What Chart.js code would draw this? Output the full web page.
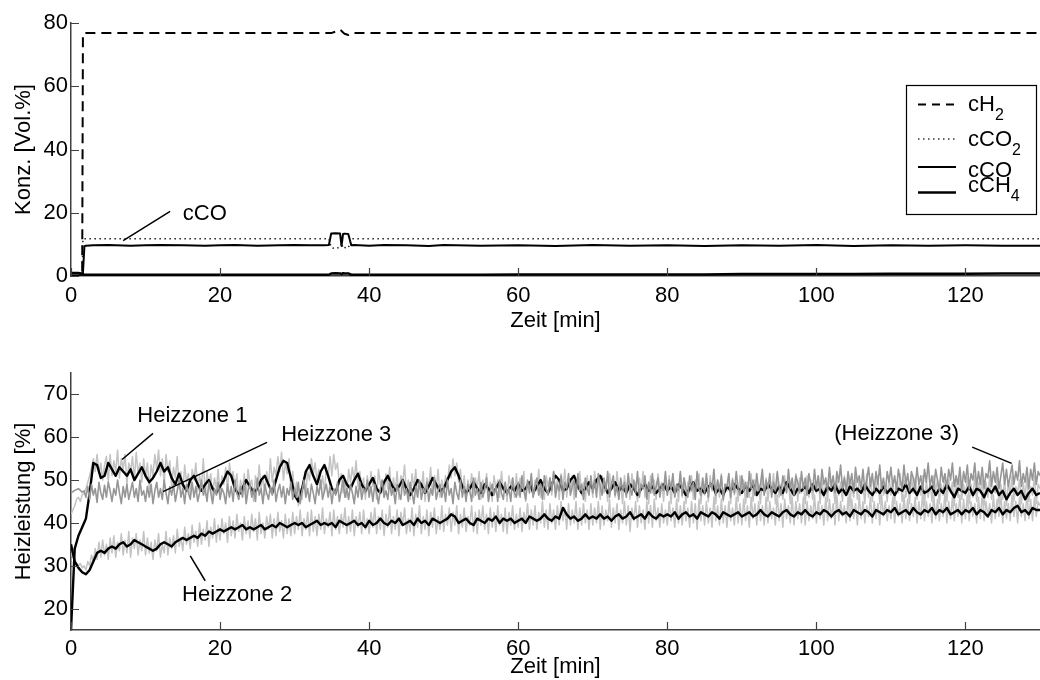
<!DOCTYPE html>
<html>
<head>
<meta charset="utf-8">
<script src="https://cdn.jsdelivr.net/npm/chart.js@4.4.1/dist/chart.umd.min.js"></script>
<style>
  html, body { margin: 0; padding: 0; background: #fff; }
  #wrap { position: relative; width: 1040px; height: 680px; }
  .box { position: absolute; left: 0; width: 1040px; height: 340px; }
</style>
</head>
<body>
<div id="wrap">
  <div class="box" style="top:0"><canvas id="konz"></canvas></div>
  <div class="box" style="top:340px"><canvas id="heiz"></canvas></div>
</div>
<script>
// Achsenbeschriftung
const zeitTicks = [0, 20, 40, 60, 80, 100, 120];
const konzTicks = [0, 20, 40, 60, 80];
const heizTicks = [20, 30, 40, 50, 60, 70];

// Gaskonzentrationen [Vol.%]
const zeitKonz = [0, 0.5, 1.0, 1.5, 1.6, 1.8, 2.0, 3, 5, 8, 10, 12, 15, 18, 20, 22, 25, 28, 30, 32, 34,
  34.6, 34.9, 35.5, 36.1, 36.3, 36.5, 36.7, 37.2, 37.6, 38,
  40, 42, 45, 48, 50, 55, 60, 65, 70, 75, 80, 85, 90, 95, 100, 105, 110, 115, 120, 125, 130];
const cH2 = [0, 0, 0, 0, 76.6, 76.8, 76.8, 76.8, 76.8, 76.8, 76.8, 76.8, 76.8, 76.8, 76.8, 76.8, 76.8, 76.8, 76.8, 76.8, 76.8,
  76.8, 76.8, 77.3, 77.9, 77.5, 77.0, 76.6, 76.2, 76.7, 76.8,
  76.8, 76.8, 76.8, 76.8, 76.8, 76.8, 76.8, 76.8, 76.8, 76.8, 76.8, 76.8, 76.8, 76.8, 76.8, 76.8, 76.8, 76.8, 76.8, 76.8, 76.8];
const cCO2 = [0, 0, 0, 0, 11.8, 11.8, 11.8, 11.8, 11.8, 11.8, 11.8, 11.8, 11.8, 11.8, 11.8, 11.8, 11.8, 11.8, 11.8, 11.8, 11.8,
  11.8, 9.0, 8.6, 9.2, 10.5, 8.7, 9.0, 8.8, 11.8, 11.8,
  11.8, 11.8, 11.8, 11.8, 11.8, 11.8, 11.8, 11.8, 11.8, 11.8, 11.8, 11.8, 11.8, 11.8, 11.8, 11.8, 11.8, 11.8, 11.8, 11.8, 11.8];
const cCO = [1.0, 1.0, 1.0, 0.8, 1.0, 9.4, 9.6, 9.7, 9.8, 9.6, 9.7, 9.8, 9.7, 9.6, 9.7, 9.8, 9.6, 9.7, 9.8, 9.7, 9.7,
  9.8, 13.4, 13.5, 13.4, 9.5, 13.3, 13.4, 13.3, 9.7, 9.8,
  9.6, 9.8, 9.7, 9.5, 9.8, 9.6, 9.7, 9.5, 9.8, 9.6, 9.7, 9.5, 9.7, 9.6, 9.8, 9.5, 9.7, 9.6, 9.7, 9.6, 9.6];
const cCH4 = [0.8, 0.8, 0.8, 0.6, 0.4, 0.4, 0.4, 0.4, 0.4, 0.4, 0.4, 0.4, 0.4, 0.4, 0.4, 0.4, 0.4, 0.4, 0.4, 0.4, 0.4,
  0.4, 0.8, 0.9, 0.8, 0.6, 0.9, 0.8, 0.8, 0.4, 0.4,
  0.4, 0.4, 0.4, 0.4, 0.4, 0.4, 0.5, 0.5, 0.5, 0.5, 0.5, 0.5, 0.6, 0.6, 0.6, 0.6, 0.7, 0.7, 0.7, 0.8, 0.8];

// Heizleistung [%]: Regelverlauf alle 0,5 min, Rohsignale alle 0,25 min
const zeitHeiz = Array.from({ length: 261 }, (_, i) => i / 2);
const zeitHeizFein = Array.from({ length: 521 }, (_, i) => i / 4);

const heizzone1 = [
  15, 34, 37, 39, 41, 47, 54, 53.5, 50.5, 51, 54, 52.5, 51, 53, 52, 51, 52.5, 50, 51.5, 53,
  51, 49.5, 50.5, 52, 54, 52, 53, 50.5, 49, 51.5, 49, 47.5, 50, 51, 49, 47.5, 49, 50, 48, 47,
  48.5, 50, 52, 51, 48, 46.5, 48, 50, 48.5, 47, 48, 50, 51, 49, 47, 50, 53, 54.5, 54, 50.5,
  46.5, 45, 48, 52, 53.5, 51, 49, 52, 53.5, 51, 48, 47, 50, 51, 49, 48, 50, 51.5, 49, 47.5,
  49, 50.5, 48, 47, 49.5, 51, 49, 47.5, 48.5, 50, 48, 46.5, 48, 50, 49, 47, 48.5, 50.5, 49, 47.5,
  48, 50, 52, 53, 51, 48.5, 47, 48, 49.5, 48, 47, 49, 48, 46.5, 48, 49.5, 48, 47, 48.5, 47.5,
  49, 47.5, 48, 49.5, 47, 48.5, 50, 48, 47, 49, 51, 50, 47.5, 48, 50, 51, 48.5, 47, 48, 49.5,
  48, 50, 51, 49, 47, 48, 49.5, 47.5, 48.5, 47, 49, 48, 46.5, 48, 49, 47.5, 48.5, 47, 48, 49,
  47.5, 48.5, 47, 49, 48, 46.5, 48, 49.5, 47.5, 48, 47, 48.5, 49, 47, 48, 46.5, 48.5, 47.5, 49, 48,
  47, 48.5, 47.5, 49, 46.5, 48, 47.5, 49, 48, 47, 48.5, 47, 49.5, 48, 46.5, 48, 47.5, 48.5, 47, 49,
  47.5, 48, 46.5, 48.5, 47.5, 49, 47, 48, 46.5, 48.5, 47.5, 48, 47, 49, 47.5, 46.5, 48, 47, 48.5, 47,
  48, 46.5, 48, 47.5, 49, 47, 48, 46.5, 48.5, 47, 47.5, 48.5, 46.5, 48, 47, 49, 47.5, 46, 48, 47.5,
  47, 48.5, 46.5, 48, 47.5, 46, 48, 47, 48.5, 46.5, 47.5, 45.5, 47, 48, 46.5, 47.5, 45.5, 47, 48, 46.5,
  47];
const heizzone2 = [
  35, 31, 29.5, 28.5, 28, 29, 31, 33, 33.5, 33, 34, 34.5, 34, 35, 35.5, 34.5, 35, 36, 35.5, 35,
  34.5, 34, 33.5, 34, 35, 35.5, 35, 34.5, 35.5, 36, 36.5, 36, 36.5, 37, 36.5, 37.5, 37, 38, 37.5, 38,
  38.5, 38, 38.5, 39, 38.5, 39, 39.5, 38.5, 39, 38.5, 39, 39.5, 38.5, 39, 39.5, 39, 40, 39.5, 39, 39.5,
  40, 39.5, 40, 39, 39.5, 40, 40.5, 39.5, 40, 39.5, 40, 39, 40.5, 40, 39.5, 40, 40.5, 39.5, 40, 39,
  40.5, 39.5, 40, 41, 40, 39.5, 40.5, 40, 41, 39.5, 40, 40.5, 39.5, 41, 40, 40.5, 39.5, 41, 40.5, 40,
  40.5, 41, 42, 41.5, 40, 40.5, 41, 40, 39.5, 41, 40.5, 40, 41, 40.5, 41.5, 40, 41, 40.5, 41, 40,
  40.5, 41, 40, 41.5, 41, 40.5, 41, 42, 41, 40.5, 41.5, 41, 43.5, 42, 41, 41.5, 40.5, 41, 42, 41,
  41.5, 41, 42, 41, 41.5, 40.5, 41.5, 42, 41, 41.5, 42.5, 41, 41.5, 42, 41, 42.5, 41.5, 41, 42, 41.5,
  42, 41.5, 42.5, 41, 42, 42.5, 41.5, 42, 41, 42.5, 42, 41.5, 42.5, 42, 41, 42.5, 42, 41.5, 42, 42.5,
  41.5, 42, 42.5, 41.5, 42, 43, 42, 41.5, 42.5, 42, 41.5, 42.5, 43, 42, 41.5, 42.5, 42, 43, 42, 41.5,
  42.5, 42, 43, 42.5, 41.5, 42.5, 43, 42, 42.5, 41.5, 43, 42.5, 42, 43, 42.5, 41.5, 43, 42.5, 42, 43,
  42.5, 43.5, 42, 42.5, 43, 42, 43.5, 42.5, 42, 43, 42.5, 43.5, 42, 43, 42.5, 43.5, 42, 42.5, 43, 42,
  43, 42.5, 43.5, 42, 43, 42.5, 41.5, 43, 42.5, 43.5, 42, 43, 42.5, 43.5, 44, 42.5, 43, 42, 43.5, 43,
  43];

const heizzone3 = [
  47, 47.3, 47.6, 47.8, 48, 47.6, 47.2, 47.5, 46, 48.5, 45.5, 49, 46.5, 48, 44.8, 49.5, 47, 45.5, 48.8, 46,
  49.5, 47.5, 45, 48, 46.5, 50, 47, 44.5, 48.5, 46, 49, 45.5, 47.5, 49.5, 46, 48, 45, 50, 46.5, 47.5,
  45, 48.5, 46, 49, 44.5, 47.5, 49.5, 46, 48, 45.5, 50, 47, 44.5, 48.5, 46.5, 49, 45, 47.5, 50, 46,
  48, 44.5, 49, 47, 45.5, 49.5, 46, 48.5, 45, 47, 50, 46.5, 48, 45, 49.5, 47, 44.5, 48, 46.5, 49.5,
  45.5, 48, 47, 44.5, 49, 46, 48.5, 45, 50, 47, 45.5, 48.5, 46, 49.5, 44.5, 47.5, 49, 46, 48, 45,
  50.5, 46.5, 48, 44.5, 49, 47, 45.5, 48.5, 46.5, 50, 45, 47.5, 49, 46, 48.5, 44.5, 48, 46.5, 49.5, 45.5,
  48, 46, 49.5, 44.5, 47.5, 50, 46, 48, 45, 49, 47, 44.5, 48.5, 46.5, 50, 45.5, 47.5, 49, 46, 48.5,
  44.5, 48, 46.5, 49.5, 45, 47.5, 50, 46, 48, 45.5, 49, 47, 44.5, 48.5, 46, 49.5, 45.5, 48, 47, 50,
  46, 48.5, 45, 49, 47, 44.5, 48, 50, 46, 47.5, 45.5, 49.5, 46.5, 48, 44.5, 49, 47, 45.5, 50, 46.5,
  48, 45, 49.5, 47, 44.5, 48.5, 46, 50, 45.5, 48, 47, 49.5, 45, 48, 46.5, 50.5, 45.5, 47.5, 49, 46,
  48.5, 45, 50, 46.5, 48, 44.5, 49.5, 47, 45.5, 50, 46, 48.5, 45, 49, 47.5, 45, 50.5, 46.5, 48, 45.5,
  49.5, 46, 48, 50.5, 45, 47.5, 49, 46.5, 48.5, 45, 50, 47, 45.5, 49.5, 46.5, 48, 45, 50.5, 47, 46,
  49.5, 46, 51, 47.5, 45.5, 50, 47, 51.5, 46, 48.5, 50.5, 46.5, 49, 45.5, 51, 48, 46.5, 50.5, 47.5, 52,
  46, 49, 47.5, 51, 45.5, 49.5, 48, 51.5, 46.5, 48.5, 50, 46, 51.5, 47.5, 49, 45.5, 50.5, 48, 46.5, 51,
  47, 50, 46, 51.5, 48.5, 46.5, 50.5, 47.5, 52, 46, 49, 51, 46.5, 48.5, 45.5, 50.5, 47.5, 49.5, 46, 51.5,
  48, 46.5, 50, 47, 52, 46, 49, 48, 51, 45.5, 49.5, 47, 51.5, 46.5, 48.5, 50.5, 46, 49, 47.5, 52,
  46.5, 50, 48, 51.5, 46, 49, 47.5, 52, 46.5, 50.5, 48, 46, 51, 47.5, 49.5, 45.5, 52, 48, 46.5, 50.5,
  47, 51.5, 46, 49.5, 48, 52.5, 46.5, 50, 47.5, 51, 45.5, 49, 48.5, 51.5, 46, 50, 47, 52, 48, 46.5,
  51, 47.5, 49.5, 46, 52, 48, 50, 46.5, 51.5, 47.5, 49, 52.5, 46.5, 50, 48, 51.5, 46, 49.5, 47.5, 52,
  48.5, 46.5, 51, 49, 47, 52.5, 48, 50.5, 46.5, 51, 49.5, 47, 52, 48, 50.5, 46.5, 51.5, 49, 47.5, 52.5,
  48, 51, 47, 52.5, 49, 50.5, 47.5, 53, 48.5, 51, 47, 52, 49.5, 53.5, 48, 50.5, 47.5, 52, 49, 51.5,
  47, 53, 49.5, 51, 48, 52.5, 47.5, 50, 53, 48.5, 51.5, 47.5, 52, 49, 53.5, 48, 50.5, 47, 52, 49.5,
  53, 48.5, 51, 47.5, 52.5, 50, 48, 53.5, 49, 51.5, 47.5, 52, 50.5, 48, 53, 49, 51, 47.5, 52.5, 49.5,
  54, 48.5, 51, 48, 52.5, 50, 47.5, 53, 49.5, 51.5, 48, 52.5, 50, 54, 48.5, 51, 49, 53, 47.5, 52,
  49.5, 53.5, 48, 51.5, 50, 54, 48.5, 52, 49, 53, 48, 51.5, 50.5, 54.5, 48.5, 52, 49.5, 53, 48, 51,
  54, 49, 52.5, 48.5, 51, 53.5, 49, 52, 50, 54.5, 48.5, 51.5, 49.5, 53, 48, 52.5, 50, 54, 49, 52,
  51];
const heizzone1Roh = [
  42, 43, 44, 45.5, 46, 45, 46.5, 47, 48, 49.5, 51, 53, 55, 52, 56, 51.5, 54, 50, 53.5, 55.5,
  49.5, 56, 51, 54.5, 52, 57, 50.5, 55, 52.5, 56, 49, 54, 52, 55.5, 50, 56.5, 51.5, 54, 49.5, 55,
  50.5, 54, 48, 53.5, 51, 56, 52.5, 57, 51, 55, 49, 56, 52, 54.5, 48.5, 53, 50.5, 55.5, 48, 52,
  47, 53.5, 49.5, 51.5, 46, 52.5, 50, 54, 47.5, 51, 48.5, 55, 46.5, 52, 49, 51.5, 46, 50.5, 48, 52.5,
  46, 51, 49, 53, 47.5, 54, 50.5, 52, 48, 51.5, 45.5, 50, 47.5, 51.5, 46, 52.5, 49, 50, 45, 51,
  47.5, 53.5, 48, 51, 46.5, 52, 48.5, 55, 49.5, 53, 51, 55.5, 52, 56.5, 50, 54, 51.5, 55, 48, 52,
  46, 49.5, 44, 48, 45.5, 50.5, 47, 52, 50, 55, 51.5, 54, 50, 52.5, 48, 51, 47, 53, 50.5, 55.5,
  51, 56, 52.5, 54, 49, 51.5, 47, 50, 46, 52.5, 49.5, 53, 50, 54.5, 48.5, 52, 47.5, 50.5, 45.5, 51,
  47, 52, 48.5, 51, 45.5, 52.5, 49, 50, 46, 51.5, 48, 53, 46.5, 50.5, 47.5, 52, 45.5, 51, 49.5, 53.5,
  47, 50, 45.5, 51.5, 48, 52.5, 46, 49.5, 47.5, 52, 45, 50.5, 48.5, 53, 46.5, 51, 48, 52.5, 46, 50,
  47.5, 51, 49, 53.5, 50.5, 55, 51, 54, 49.5, 52.5, 47, 51, 45.5, 50, 47.5, 51.5, 46, 50.5, 48, 52,
  45.5, 50, 47, 51.5, 46.5, 49.5, 45, 51, 48, 50, 46, 52, 47.5, 49.5, 45, 51, 48.5, 50.5, 46, 51.5,
  46.5, 50.5, 47.5, 52, 45, 49.5, 48, 51, 46, 50, 47.5, 52.5, 46, 49, 45.5, 51, 48.5, 50.5, 46.5, 52,
  47, 50, 45.5, 51.5, 48, 52.5, 46, 50, 47.5, 51, 45.5, 50.5, 48, 52, 46.5, 49.5, 45, 51, 47.5, 50,
  46, 52, 48.5, 50.5, 45.5, 51, 47, 49.5, 45, 51.5, 48, 50, 46, 52, 47.5, 49, 44.5, 51, 47, 50.5,
  45.5, 51.5, 48, 49.5, 45, 50.5, 47.5, 52, 46, 49, 44.5, 51, 47, 50, 45.5, 51.5, 48, 49.5, 45, 50.5,
  46.5, 51, 44.5, 50, 47.5, 49, 45, 51.5, 46, 50.5, 44.5, 49.5, 47, 51, 45.5, 50, 48, 51.5, 44.5, 49,
  46.5, 50.5, 45, 51, 47.5, 49.5, 44.5, 50, 46, 51.5, 45, 49, 47.5, 51, 44.5, 50.5, 46.5, 49.5, 45, 51,
  47, 50, 44.5, 49.5, 46, 51.5, 45, 50, 47.5, 49, 44.5, 51, 46.5, 50.5, 45, 49.5, 47, 51.5, 44.5, 50,
  46, 49, 45.5, 51, 47.5, 50, 44.5, 49.5, 46.5, 51.5, 45, 50.5, 47, 49, 44.5, 51, 46, 50, 45.5, 49.5,
  47, 51, 44.5, 50, 46, 49.5, 45, 51.5, 47.5, 49, 44.5, 50.5, 46.5, 49.5, 45, 51, 47, 50, 44, 49.5,
  46, 51, 45.5, 50, 47.5, 49, 44.5, 51.5, 46, 50.5, 45, 49.5, 47, 51, 44.5, 50, 46.5, 49, 45, 51,
  46.5, 50, 44.5, 49.5, 47, 51.5, 45, 50, 46, 49, 44.5, 51, 47, 50.5, 45.5, 49.5, 46.5, 51, 44, 50,
  46, 49.5, 45, 51, 47.5, 50, 44.5, 49, 46.5, 51.5, 45, 50, 47, 49.5, 44, 51, 46, 50.5, 45.5, 49,
  46.5, 50.5, 44.5, 49, 46, 51, 45, 49.5, 47, 50, 44, 49.5, 46, 51, 45.5, 48.5, 47, 50.5, 44.5, 49,
  45.5, 50, 44, 49.5, 46.5, 51, 45, 48.5, 47, 50, 44.5, 49.5, 46, 50.5, 45, 48.5, 46.5, 51, 44.5, 49,
  48];
const heizzone2Roh = [
  33, 32, 31, 30.5, 30, 30.5, 29.5, 30, 29, 31, 30, 32.5, 31, 34, 31.5, 35.5, 32, 36, 32.5, 35,
  31.5, 36.5, 33, 37, 32, 35.5, 33.5, 37.5, 32.5, 36, 33, 38, 32, 36.5, 34, 37.5, 32.5, 36, 33.5, 38,
  32.5, 36.5, 33, 35.5, 31.5, 36, 33.5, 37.5, 32, 35, 33, 38, 32.5, 36.5, 34, 37, 33, 38.5, 34.5, 36.5,
  33.5, 39, 35, 37.5, 34, 39.5, 35.5, 38, 34.5, 40, 35, 38.5, 36, 40.5, 34.5, 39, 36.5, 41, 35.5, 39.5,
  36, 41, 37.5, 40, 35.5, 41.5, 37, 40.5, 36.5, 42, 38, 40, 36, 41.5, 37.5, 40.5, 36.5, 42, 38, 41,
  36, 42.5, 37.5, 40, 36.5, 41.5, 38.5, 42, 36.5, 41, 37, 42.5, 38, 40.5, 36.5, 42, 37.5, 41, 37, 42.5,
  37.5, 41.5, 38.5, 43, 37, 41, 38.5, 42.5, 37, 43, 38, 41.5, 37, 42, 38.5, 43.5, 37.5, 41, 39, 42.5,
  37, 43, 38.5, 41.5, 37.5, 42, 39, 43.5, 37.5, 41.5, 38, 43, 37, 41.5, 39, 42.5, 37.5, 43, 38.5, 41,
  37.5, 42.5, 39, 43.5, 37.5, 41.5, 38.5, 43, 37, 42, 39, 44, 37.5, 41.5, 38.5, 43, 37, 42.5, 39.5, 43.5,
  37.5, 41, 38, 43.5, 37, 42, 39, 44, 37.5, 41.5, 38.5, 43, 37, 42.5, 39, 43.5, 37.5, 41.5, 38.5, 44,
  38, 42, 39.5, 43.5, 38, 42.5, 39.5, 44, 37.5, 42, 39, 43.5, 38, 41.5, 39.5, 44, 38, 42.5, 37.5, 43,
  39.5, 44, 38.5, 42, 37.5, 43.5, 39, 42.5, 38, 44, 39.5, 42, 38, 43.5, 37.5, 42.5, 39.5, 44, 38.5, 42,
  39, 43.5, 38, 42.5, 40, 44.5, 38.5, 43, 39.5, 44, 38.5, 42.5, 40, 45, 39, 43, 38.5, 44.5, 40, 43,
  38.5, 44, 39.5, 45, 40.5, 43.5, 38.5, 44.5, 39.5, 43, 40, 45, 38.5, 43.5, 39.5, 44.5, 40, 43, 38.5, 44.5,
  39.5, 43.5, 40, 45, 38.5, 44, 39.5, 43, 40.5, 45.5, 39, 43.5, 40, 44.5, 38.5, 43, 40, 45, 39.5, 44,
  38, 43.5, 40.5, 45, 39, 44, 40, 43, 38.5, 45, 40, 44, 39, 45.5, 40.5, 43.5, 39, 44.5, 40, 43,
  39.5, 45, 40.5, 43.5, 39, 45.5, 40, 44, 39.5, 45, 40.5, 43.5, 39, 45, 40, 44.5, 38.5, 45.5, 40.5, 44,
  39.5, 45, 40, 43.5, 39, 46, 40.5, 44, 39.5, 45.5, 40, 44, 39, 45, 40.5, 43.5, 39.5, 46, 40, 44.5,
  39.5, 45.5, 40.5, 44, 39, 46, 41, 44.5, 39.5, 45, 40.5, 44, 39.5, 46, 40, 45, 41, 43.5, 39.5, 46.5,
  40.5, 44.5, 39, 45.5, 41, 44, 40, 46, 39.5, 45, 41, 44.5, 40, 46, 39.5, 45, 40.5, 44, 41, 46.5,
  40, 45, 41, 44, 39.5, 46, 40.5, 45.5, 41, 44.5, 39.5, 46.5, 40.5, 45, 41.5, 44, 40, 46, 40.5, 45.5,
  41, 44.5, 39.5, 46.5, 41, 45, 40, 44, 41.5, 46, 40, 45, 41, 44.5, 39.5, 46.5, 41.5, 45, 40.5, 44,
  41, 46, 40, 45, 41.5, 44.5, 40, 46.5, 41, 45.5, 40.5, 44.5, 41.5, 46, 40, 45, 41, 47, 40.5, 45,
  41.5, 44.5, 40, 46.5, 41, 45.5, 40.5, 44.5, 41.5, 47, 40, 45, 41, 46, 40.5, 44.5, 41.5, 46.5, 40, 45.5,
  41, 46.5, 40.5, 45, 41.5, 44.5, 40, 46, 41, 47, 40.5, 45, 41.5, 44.5, 40, 46.5, 41, 45.5, 41.5, 47,
  40, 45, 41, 44.5, 40.5, 46.5, 41.5, 45, 40, 46, 41.5, 44.5, 40.5, 47, 41, 45.5, 40.5, 46, 41.5, 45,
  44];

// Beschriftungen im Diagramm (Lage in Datenkoordinaten)
const konzNotizen = [
  { text: 'cCO', at: [15.0, 19.7], von: [13.3, 20.4], bis: [7.0, 11.2] }
];
const heizNotizen = [
  { text: 'Heizzone 1', at: [8.9, 64.9], von: [11.0, 60.9], bis: [6.85, 54.8] },
  { text: 'Heizzone 3', at: [28.2, 60.5], von: [26.3, 58.8], bis: [12.35, 47.3] },
  { text: 'Heizzone 2', at: [14.9, 23.2], von: [16.0, 32.3], bis: [18.0, 26.5] },
  { text: '(Heizzone 3)', at: [102.4, 60.7], von: [120.9, 57.7], bis: [126.2, 53.9] }
];

const schrift = '"Liberation Sans", Arial, Helvetica, sans-serif';
Chart.defaults.font.family = schrift;
Chart.defaults.font.size = 22;
Chart.defaults.color = '#000';

function reihe(zeit, werte, stil) {
  return Object.assign({
    data: zeit.map((t, i) => ({ x: t, y: werte[i] })),
    pointRadius: 0,
    tension: 0,
    borderJoinStyle: 'round',
    fill: false
  }, stil);
}

function festeTicks(werte) {
  return scale => { scale.ticks = werte.map(v => ({ value: v })); };
}

// kleine Striche nach innen, wie bei Matlab
const achsenStriche = {
  id: 'achsenStriche',
  afterDraw(chart) {
    const { ctx, chartArea: a, scales: { x, y } } = chart;
    ctx.save();
    ctx.strokeStyle = '#404040';
    ctx.lineWidth = 1.2;
    ctx.beginPath();
    x.ticks.forEach(t => {
      const px = Math.round(x.getPixelForValue(t.value)) + 0.5;
      ctx.moveTo(px, a.bottom);
      ctx.lineTo(px, a.bottom - 8);
    });
    y.ticks.forEach(t => {
      const py = Math.round(y.getPixelForValue(t.value)) + 0.5;
      ctx.moveTo(a.left, py);
      ctx.lineTo(a.left + 8, py);
    });
    ctx.stroke();
    ctx.restore();
  }
};

function notizen(liste) {
  return {
    id: 'notizen',
    afterDraw(chart) {
      const { ctx, scales: { x, y } } = chart;
      ctx.save();
      ctx.font = '22px ' + schrift;
      ctx.fillStyle = '#000';
      ctx.strokeStyle = '#000';
      ctx.lineWidth = 1.5;
      ctx.textBaseline = 'middle';
      liste.forEach(n => {
        ctx.fillText(n.text, x.getPixelForValue(n.at[0]), y.getPixelForValue(n.at[1]));
        ctx.beginPath();
        ctx.moveTo(x.getPixelForValue(n.von[0]), y.getPixelForValue(n.von[1]));
        ctx.lineTo(x.getPixelForValue(n.bis[0]), y.getPixelForValue(n.bis[1]));
        ctx.stroke();
      });
      ctx.restore();
    }
  };
}

// Legende mit tiefgestellten Indizes
const legendeEintraege = [
  { name: 'cH', index: '2', strich: [8, 6], breite: 2, farbe: '#000', linieY: 19.5, textY: 26 },
  { name: 'cCO', index: '2', strich: [1.5, 3.5], breite: 1.4, farbe: '#333', linieY: 54, textY: 61 },
  { name: 'cCO', index: '', strich: [], breite: 2, farbe: '#000', linieY: 82, textY: 92 },
  { name: 'cCH', index: '4', strich: [], breite: 2.5, farbe: '#000', linieY: 107.5, textY: 107 }
];
const legende = {
  id: 'legende',
  afterDraw(chart) {
    const { ctx, chartArea: a } = chart;
    const rechts = a.right - 4, links = rechts - 130, oben = a.top + 62, hoehe = 129;
    ctx.save();
    ctx.fillStyle = '#fff';
    ctx.fillRect(links, oben, 130, hoehe);
    ctx.strokeStyle = '#000';
    ctx.lineWidth = 1.2;
    ctx.strokeRect(links + 0.5, oben + 0.5, 130, hoehe);
    legendeEintraege.forEach(e => {
      ctx.beginPath();
      ctx.setLineDash(e.strich);
      ctx.strokeStyle = e.farbe;
      ctx.lineWidth = e.breite;
      ctx.moveTo(links + 12, oben + e.linieY);
      ctx.lineTo(links + 50, oben + e.linieY);
      ctx.stroke();
      ctx.setLineDash([]);
      ctx.fillStyle = '#000';
      ctx.textBaseline = 'alphabetic';
      ctx.font = '22px ' + schrift;
      ctx.fillText(e.name, links + 62, oben + e.textY);
      const w = ctx.measureText(e.name).width;
      if (e.index) {
        ctx.font = '16px ' + schrift;
        ctx.fillText(e.index, links + 62 + w, oben + e.textY + 9);
      }
    });
    ctx.restore();
  }
};

function achsen(xTicks, yTicks, yMin, yMax, yTitel, xHoehe, tickAbstand, titelUnten) {
  return {
    x: {
      type: 'linear', min: 0, max: 130,
      afterBuildTicks: festeTicks(xTicks),
      afterFit: s => { s.height = xHoehe; },
      grid: { display: false, drawTicks: false },
      border: { display: true, color: '#404040', width: 1.5 },
      ticks: { padding: tickAbstand, maxRotation: 0, autoSkip: false },
      title: { display: true, text: 'Zeit [min]', padding: { top: 0, bottom: titelUnten } }
    },
    y: {
      min: yMin, max: yMax,
      afterBuildTicks: festeTicks(yTicks),
      afterFit: s => { s.width = 71; },
      grid: { display: false, drawTicks: false },
      border: { display: true, color: '#404040', width: 1.5 },
      ticks: { padding: 3 },
      title: { display: true, text: yTitel, padding: { top: 11, bottom: 0 } }
    }
  };
}

new Chart(document.getElementById('konz'), {
  type: 'line',
  data: {
    datasets: [
      reihe(zeitKonz, cH2, { label: 'cH2', borderColor: '#000', borderWidth: 2, borderDash: [10, 6] }),
      reihe(zeitKonz, cCO2, { label: 'cCO2', borderColor: '#222', borderWidth: 1.5, borderDash: [1.5, 3.5] }),
      reihe(zeitKonz, cCO, { label: 'cCO', borderColor: '#000', borderWidth: 2 }),
      reihe(zeitKonz, cCH4, { label: 'cCH4', borderColor: '#000', borderWidth: 2.5 })
    ]
  },
  options: {
    responsive: true, maintainAspectRatio: false, animation: false, events: [],
    layout: { padding: { top: 23, right: 0, left: 0, bottom: 0 } },
    plugins: { legend: { display: false }, tooltip: { enabled: false } },
    scales: achsen(zeitTicks, konzTicks, 0, 80, 'Konz. [Vol.%]', 64, 7, 6)
  },
  plugins: [achsenStriche, legende, notizen(konzNotizen)]
});

// Reihenfolge: erster Datensatz liegt oben
new Chart(document.getElementById('heiz'), {
  type: 'line',
  data: {
    datasets: [
      reihe(zeitHeizFein, heizzone3, { label: 'Heizzone 3', borderColor: 'rgb(150,150,150)', borderWidth: 1.6 }),
      reihe(zeitHeiz, heizzone1, { label: 'Heizzone 1', borderColor: '#000', borderWidth: 2.4 }),
      reihe(zeitHeiz, heizzone2, { label: 'Heizzone 2', borderColor: '#000', borderWidth: 2.4 }),
      reihe(zeitHeizFein, heizzone1Roh, { label: 'Heizzone 1 roh', borderColor: 'rgb(195,195,195)', borderWidth: 1.5 }),
      reihe(zeitHeizFein, heizzone2Roh, { label: 'Heizzone 2 roh', borderColor: 'rgb(195,195,195)', borderWidth: 1.5 })
    ]
  },
  options: {
    responsive: true, maintainAspectRatio: false, animation: false, events: [],
    layout: { padding: { top: 33, right: 0, left: 0, bottom: 0 } },
    plugins: { legend: { display: false }, tooltip: { enabled: false } },
    scales: achsen(zeitTicks, heizTicks, 15, 75, 'Heizleistung [%]', 50, 6, 0)
  },
  plugins: [achsenStriche, notizen(heizNotizen)]
});
</script>
</body>
</html>
